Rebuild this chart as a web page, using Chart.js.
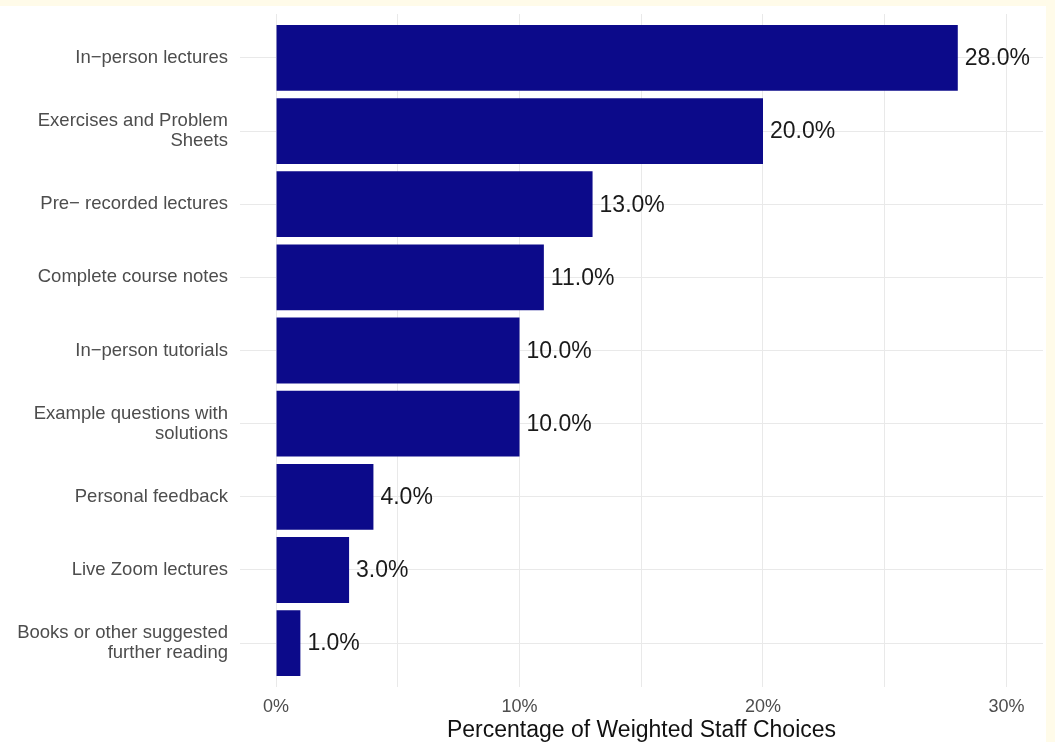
<!DOCTYPE html>
<html>
<head>
<meta charset="utf-8">
<script src="https://cdn.jsdelivr.net/npm/chart.js@4/dist/chart.umd.min.js"></script>
<style>
  html, body { margin: 0; padding: 0; background: #fffbe9; }
  #wrap { width: 1055px; height: 742px; position: relative; }
</style>
</head>
<body>
<div id="wrap"><canvas id="chart" width="1055" height="742"></canvas></div>
<script>
// resources ranked by weighted staff choices (percent)
const categories = [
  ['In\u2212person lectures'],
  ['Exercises and Problem', 'Sheets'],
  ['Pre\u2212 recorded lectures'],
  ['Complete course notes'],
  ['In\u2212person tutorials'],
  ['Example questions with', 'solutions'],
  ['Personal feedback'],
  ['Live Zoom lectures'],
  ['Books or other suggested', 'further reading']
];
const shares = [28.0, 20.0, 13.0, 11.0, 10.0, 10.0, 4.0, 3.0, 1.0];
const xTickLabels = { 0: '0%', 10: '10%', 20: '20%', 30: '30%' };

const FONT = '"Liberation Sans", Arial, sans-serif';
const GRID = '#e9e9e9';

// white panel with the thin cream frame along top and right
const backdrop = {
  id: 'backdrop',
  beforeDraw(chart) {
    const ctx = chart.ctx;
    ctx.save();
    ctx.fillStyle = '#fffbe9';
    ctx.fillRect(0, 0, chart.width, chart.height);
    ctx.fillStyle = '#ffffff';
    ctx.fillRect(0, 6, chart.width - 9, chart.height - 6);
    ctx.restore();
  }
};

// value text just right of each bar end
const valueLabels = {
  id: 'valueLabels',
  afterDatasetsDraw(chart) {
    const ctx = chart.ctx;
    const meta = chart.getDatasetMeta(0);
    ctx.save();
    ctx.font = '23px ' + FONT;
    ctx.fillStyle = '#1a1a1a';
    ctx.textAlign = 'left';
    ctx.textBaseline = 'middle';
    meta.data.forEach((bar, i) => {
      ctx.fillText(shares[i].toFixed(1) + '%', bar.x + 7, bar.y + 1);
    });
    ctx.restore();
  }
};

new Chart(document.getElementById('chart'), {
  type: 'bar',
  data: {
    datasets: [{
      data: shares.map((v, i) => ({ x: v, y: i })),
      backgroundColor: '#0c0a8a',
      borderWidth: 0,
      barPercentage: 0.9,
      categoryPercentage: 1.0
    }]
  },
  options: {
    indexAxis: 'y',
    responsive: false,
    animation: false,
    layout: { padding: { top: 14, right: 12, left: 0, bottom: 0 } },
    plugins: { legend: { display: false }, tooltip: { enabled: false } },
    scales: {
      x: {
        type: 'linear',
        min: -1.48,
        max: 31.5,
        offset: false,
        border: { display: false },
        grid: { color: GRID, drawTicks: false, lineWidth: 1, offset: false },
        ticks: {
          stepSize: 5,
          includeBounds: false,
          autoSkip: false,
          maxRotation: 0,
          padding: 9,
          color: '#4d4d4d',
          font: { family: FONT, size: 18 },
          callback: v => xTickLabels[v] !== undefined ? xTickLabels[v] : ''
        },
        title: {
          display: true,
          text: 'Percentage of Weighted Staff Choices',
          color: '#111111',
          font: { family: FONT, size: 23 },
          padding: { top: 0, bottom: -2 }
        },
        afterFit(scale) { scale.height = 55; }
      },
      y: {
        type: 'linear',
        min: -0.6,
        max: 8.6,
        reverse: true,
        offset: false,
        border: { display: false },
        grid: { color: GRID, drawTicks: false, lineWidth: 1, offset: false },
        afterBuildTicks(scale) {
          scale.ticks = categories.map((_, i) => ({ value: i }));
        },
        ticks: {
          autoSkip: false,
          padding: 12,
          color: '#4d4d4d',
          font: { family: FONT, size: 18.5, lineHeight: 1.08 },
          callback: v => categories[v] || ''
        },
        afterFit(scale) {
          scale.width = 240;
          scale.paddingTop = 0;
          scale.paddingBottom = 0;
        }
      }
    }
  },
  plugins: [backdrop, valueLabels]
});
</script>
</body>
</html>
